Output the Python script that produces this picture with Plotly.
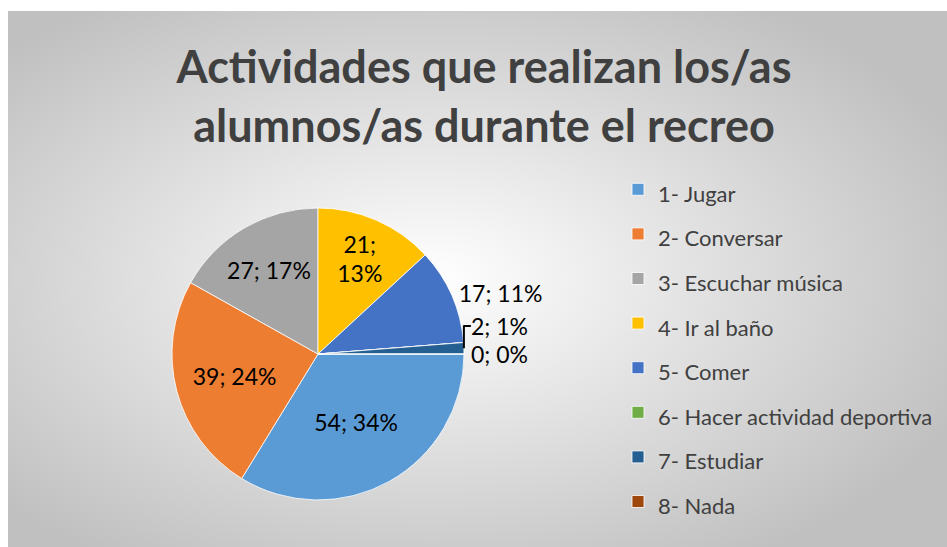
import base64
import plotly.graph_objects as go

categories = ["1- Jugar", "2- Conversar", "3- Escuchar música", "4- Ir al baño",
              "5- Comer", "6- Hacer actividad deportiva", "7- Estudiar", "8- Nada"]
values = [54, 39, 27, 21, 17, 0, 2, 0]
colors = ["#5B9BD5", "#ED7D31", "#A5A5A5", "#FFC000",
          "#4472C4", "#70AD47", "#255E91", "#9E480E"]
label_sep = [" ", " ", " ", "<br>", " ", " ", " ", " "]
text_pos = ["inside", "inside", "inside", "inside", "outside", "none", "outside", "outside"]

total = sum(values)
texts = [f"{v};{s}{round(100 * v / total)}%" for v, s in zip(values, label_sep)]
legend_labels = [f"<span style='font-size:22px'>{c}</span>" for c in categories]

W, H = 947, 547
svg = (
    '<svg xmlns="http://www.w3.org/2000/svg" width="939" height="536" preserveAspectRatio="none">'
    '<defs><radialGradient id="g" cx="0.45" cy="0.5" r="0.62">'
    '<stop offset="0" stop-color="#ffffff"/><stop offset="1" stop-color="#c0c0c0"/>'
    '</radialGradient></defs><rect width="939" height="536" fill="url(#g)"/></svg>'
)
bg_src = "data:image/svg+xml;base64," + base64.b64encode(svg.encode()).decode()

fig = go.Figure(go.Pie(
    labels=legend_labels,
    values=values,
    text=texts,
    textinfo="text",
    textposition=text_pos,
    textfont=dict(family="Lato", size=23, color="#000000"),
    insidetextorientation="horizontal",
    marker=dict(colors=colors, line=dict(color="#ffffff", width=0.8)),
    sort=False,
    direction="clockwise",
    rotation=90,
    domain=dict(x=[172 / W, 464 / W], y=[1 - 500 / H, 1 - 208 / H]),
    hoverinfo="label+value+percent",
))

fig.update_layout(
    width=W, height=H,
    autosize=False,
    margin=dict(l=0, r=0, t=0, b=0),
    paper_bgcolor="#ffffff",
    plot_bgcolor="rgba(0,0,0,0)",
    uniformtext=dict(minsize=23, mode="show"),
    title=dict(
        text="<b>Actividades que realizan los/as<br>alumnos/as durante el recreo</b>",
        font=dict(family="Lato", size=45, color="#404040"),
        x=484 / W, xanchor="center",
        y=1 - 83 / H, yanchor="middle",
    ),
    legend=dict(
        font=dict(family="Lato", size=32, color="#404040"),
        x=618 / W, xanchor="left",
        y=1 - 162 / H, yanchor="top",
        bgcolor="rgba(0,0,0,0)",
    ),
    images=[dict(
        source=bg_src, xref="paper", yref="paper",
        x=8 / W, y=1 - 11 / H, sizex=939 / W, sizey=536 / H,
        xanchor="left", yanchor="top", sizing="stretch", layer="below",
    )],
)

fig.write_html("out.html")
